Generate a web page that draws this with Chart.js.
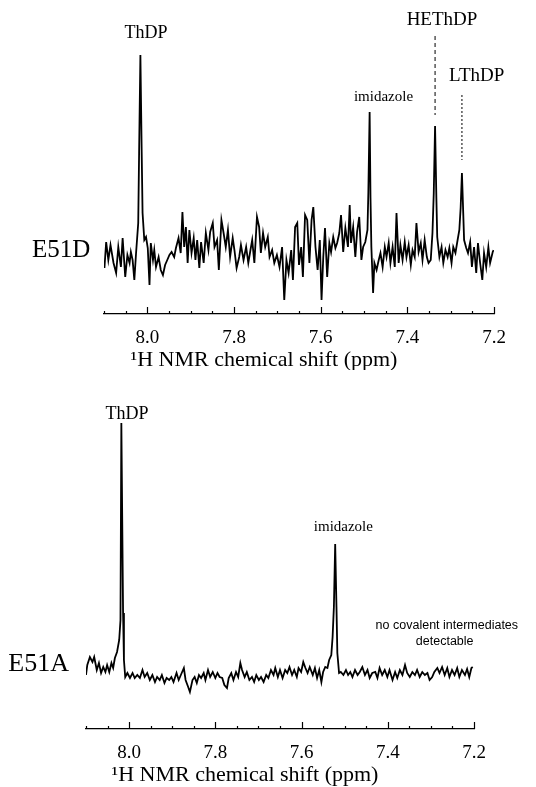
<!DOCTYPE html>
<html>
<head>
<meta charset="utf-8">
<script src="https://cdn.jsdelivr.net/npm/chart.js@4.4.1/dist/chart.umd.min.js"></script>
<style>
html, body { margin: 0; padding: 0; background: #fff; }
body { width: 536px; height: 787px; position: relative; overflow: hidden; }
.panel { position: absolute; left: 0; width: 536px; }
#topPanel { top: 0; height: 370px; }
#bottomPanel { top: 380px; height: 407px; }
</style>
</head>
<body>
<div class="panel" id="topPanel"><canvas id="e51dChart"></canvas></div>
<div class="panel" id="bottomPanel"><canvas id="e51aChart"></canvas></div>
<script>
// chemical shift axis
const shiftMin = 7.2
const shiftMax = 8.1
const axisTitle = "¹H NMR chemical shift (ppm)"

// E51D spectrum (ppm / intensity, arbitrary units)
const e51dShift = [
8.099, 8.095, 8.090, 8.085, 8.078, 8.072, 8.067, 8.061, 8.057, 8.051,
8.046, 8.041, 8.038, 8.034, 8.030, 8.026, 8.021, 8.019, 8.016, 8.013,
8.011, 8.007, 8.003, 7.999, 7.995, 7.992, 7.987, 7.984, 7.980, 7.974,
7.969, 7.964, 7.959, 7.954, 7.949, 7.944, 7.938, 7.934, 7.928, 7.923,
7.919, 7.915, 7.911, 7.907, 7.903, 7.898, 7.893, 7.889, 7.885, 7.880,
7.876, 7.870, 7.865, 7.859, 7.855, 7.849, 7.845, 7.839, 7.835, 7.829,
7.824, 7.819, 7.814, 7.809, 7.803, 7.799, 7.794, 7.788, 7.784, 7.778,
7.772, 7.767, 7.762, 7.758, 7.753, 7.747, 7.742, 7.738, 7.733, 7.728,
7.722, 7.718, 7.712, 7.707, 7.701, 7.695, 7.689, 7.684, 7.679, 7.674,
7.668, 7.664, 7.659, 7.654, 7.650, 7.645, 7.641, 7.636, 7.631, 7.626,
7.621, 7.617, 7.612, 7.607, 7.602, 7.598, 7.594, 7.590, 7.585, 7.580,
7.576, 7.571, 7.566, 7.562, 7.557, 7.553, 7.548, 7.543, 7.537, 7.533,
7.530, 7.525, 7.520, 7.516, 7.511, 7.506, 7.502, 7.497, 7.492, 7.490,
7.487, 7.485, 7.483, 7.479, 7.476, 7.471, 7.466, 7.462, 7.457, 7.452,
7.448, 7.443, 7.439, 7.434, 7.429, 7.425, 7.420, 7.416, 7.411, 7.406,
7.402, 7.397, 7.392, 7.388, 7.383, 7.379, 7.374, 7.369, 7.365, 7.360,
7.355, 7.351, 7.346, 7.342, 7.339, 7.336, 7.333, 7.331, 7.326, 7.321,
7.317, 7.312, 7.307, 7.303, 7.298, 7.294, 7.289, 7.284, 7.280, 7.277,
7.274, 7.271, 7.269, 7.264, 7.260, 7.255, 7.251, 7.246, 7.241, 7.237,
7.232, 7.227, 7.223, 7.218, 7.213, 7.209, 7.203, 7.201
]
const e51dIntensity = [
-15, 11, -7, 8, -10, -20, 6, -14, 15, -24,
-2, -10, 1, -7, -27, 0, 30, 100, 198, 100,
40, 13, 16, 5, -32, 10, -7, 3, -14, -4,
-17, -22, -12, -7, -2, 1, -4, 5, 15, 0,
41, 6, 26, -10, 23, 0, 15, -7, 13, -15,
11, -10, 20, 3, 21, 30, 6, 13, -17, 33,
20, 6, 23, -4, 15, 3, -15, -4, 8, -7,
6, -10, 3, 13, -10, 36, 26, 0, 20, 6,
16, -4, 3, -10, -2, -14, 6, -47, -7, -20,
3, -27, 26, 30, -12, 6, -24, 38, 33, -10,
33, 46, 6, -17, 13, -47, -4, 25, -24, 10,
1, 16, 5, 10, 20, 38, 1, 25, 6, 48,
10, 26, -4, 21, 36, -7, 6, 11, 23, 60,
141, 55, 6, -40, -10, -17, -7, 0, -14, 6,
-4, 10, -10, 6, -14, 40, -10, 8, -7, 11,
-4, 8, -12, 3, -4, 30, 1, 10, -7, 13,
-4, -10, -7, 20, 60, 127, 55, 16, -4, 6,
-10, 3, -4, 5, -10, 6, 0, 13, 23, 45,
80, 40, 13, 5, 0, 11, -14, 6, -20, 10,
-10, -27, 0, -14, 6, -10, 1, 3
]

// E51A spectrum
const e51aShift = [
8.100, 8.097, 8.091, 8.085, 8.081, 8.075, 8.070, 8.065, 8.060, 8.055,
8.051, 8.046, 8.041, 8.037, 8.033, 8.028, 8.023, 8.020, 8.018, 8.014,
8.012, 8.009, 8.004, 7.998, 7.992, 7.987, 7.981, 7.975, 7.969, 7.964,
7.958, 7.952, 7.946, 7.940, 7.935, 7.929, 7.924, 7.918, 7.913, 7.907,
7.902, 7.897, 7.890, 7.885, 7.880, 7.873, 7.869, 7.863, 7.859, 7.853,
7.848, 7.843, 7.838, 7.833, 7.827, 7.823, 7.817, 7.812, 7.806, 7.800,
7.795, 7.790, 7.784, 7.779, 7.773, 7.769, 7.763, 7.758, 7.752, 7.747,
7.742, 7.738, 7.732, 7.727, 7.721, 7.715, 7.710, 7.705, 7.699, 7.694,
7.688, 7.682, 7.677, 7.671, 7.665, 7.661, 7.655, 7.650, 7.644, 7.638,
7.633, 7.628, 7.622, 7.617, 7.611, 7.607, 7.601, 7.596, 7.591, 7.586,
7.581, 7.574, 7.569, 7.564, 7.559, 7.554, 7.550, 7.545, 7.540, 7.536,
7.531, 7.528, 7.525, 7.522, 7.519, 7.517, 7.513, 7.509, 7.503, 7.497,
7.492, 7.487, 7.482, 7.476, 7.470, 7.465, 7.459, 7.453, 7.447, 7.442,
7.436, 7.429, 7.424, 7.419, 7.413, 7.407, 7.401, 7.396, 7.389, 7.383,
7.378, 7.372, 7.366, 7.360, 7.355, 7.349, 7.343, 7.337, 7.332, 7.326,
7.320, 7.314, 7.308, 7.303, 7.297, 7.292, 7.285, 7.280, 7.274, 7.268,
7.262, 7.257, 7.251, 7.245, 7.239, 7.234, 7.228, 7.221, 7.216, 7.211,
7.206, 7.203
]
const e51aIntensity = [
2, 12, 20, 15, 20, 7, 14, 4, 10, 5,
12, 5, 14, 9, 19, 25, 37, 57, 254, 64,
17, 0, 4, -1, 4, -1, 2, -1, 7, 0,
4, -3, 2, -5, 0, -3, 2, -6, -1, -3,
0, -5, 4, -3, 2, 9, -3, -10, -15, -3,
0, -6, 2, -1, 4, -3, 7, 0, 5, -1,
4, 0, -1, -8, -11, -1, 4, -3, 5, 0,
14, 7, 0, 5, -3, 0, -5, 2, -3, 0,
-5, 2, -1, 7, 2, 9, 0, 7, -1, 7,
4, 10, 2, 7, 0, 9, 5, 15, 9, 4,
10, 2, 9, -1, 7, -5, 5, 10, 9, 17,
22, 40, 70, 133, 70, 24, 4, 5, 2, 7,
2, 5, 0, 7, 2, 5, 10, 2, 7, -1,
4, 5, -1, 9, 2, 7, 0, 7, -3, 5,
-1, 7, 2, 12, 4, 0, 5, 2, 7, 0,
5, 2, 4, -3, 0, 5, 9, 4, 10, 2,
9, 0, 7, 2, 9, 0, 7, 2, 8, 0,
9, 10
]

// dashed leaders above HEThDP and LThDP
const leaderShift = [7.336, 7.274]
const leaderUpper = [217, 158]
const leaderLower = [138, 93]

const e51dLabels = ["ThDP", "imidazole", "HEThDP", "LThDP", "E51D"]
const e51aLabels = ["ThDP", "imidazole", "E51A", "no covalent intermediates", "detectable"]

const serif = '"Liberation Serif", "Times New Roman", serif'
const sans = '"Liberation Sans", Arial, sans-serif'

function isMajor(v) {
    return Math.abs(v / 0.2 - Math.round(v / 0.2)) < 1e-6
}

const figureText = {
    id: "figureText",
    afterDraw(chart, args, opts) {
        const { ctx, chartArea, scales } = chart
        const x = scales.x, y = scales.y
        ctx.save()
        ctx.strokeStyle = "#000"
        ctx.lineWidth = 1.2
        x.ticks.forEach(t => {
            const px = Math.round(x.getPixelForValue(t.value)) + 0.5
            const len = isMajor(t.value) ? 7 : 3
            ctx.beginPath()
            ctx.moveTo(px, chartArea.bottom)
            ctx.lineTo(px, chartArea.bottom - len)
            ctx.stroke()
        })
        ctx.fillStyle = "#000"
        ctx.textAlign = "center"
        ctx.textBaseline = "middle"
        opts.notes.forEach(n => {
            ctx.font = n.font
            ctx.fillText(n.text, x.getPixelForValue(n.shift), y.getPixelForValue(n.level))
        })
        ctx.font = "22px " + serif
        ctx.fillText(axisTitle, (chartArea.left + chartArea.right) / 2 - 35, chartArea.bottom + 46)
        ctx.restore()
    }
}

function makeSpectrum(canvasId, shifts, values, opts) {
    const datasets = [{
        data: shifts.map((s, i) => ({ x: s, y: values[i] })),
        borderColor: "#000",
        borderWidth: 1.8,
        pointRadius: 0,
        tension: 0,
        fill: false
    }]
    opts.leaders.forEach(l => {
        datasets.push({
            data: [{ x: l.shift, y: l.upper }, { x: l.shift, y: l.lower }],
            borderColor: "#000",
            borderWidth: 1,
            borderDash: l.dash,
            pointRadius: 0,
            fill: false
        })
    })

    new Chart(document.getElementById(canvasId), {
        type: "line",
        data: { datasets: datasets },
        options: {
            responsive: true,
            maintainAspectRatio: false,
            animation: false,
            layout: { padding: opts.padding },
            plugins: {
                legend: { display: false },
                tooltip: { enabled: false },
                figureText: { notes: opts.notes }
            },
            scales: {
                x: {
                    type: "linear",
                    reverse: true,
                    min: shiftMin,
                    max: shiftMax,
                    afterFit: s => { s.height = opts.axisHeight },
                    grid: { display: false },
                    border: { display: true, color: "#000", width: 1.3 },
                    ticks: {
                        stepSize: 0.05,
                        maxTicksLimit: 100,
                        autoSkip: false,
                        maxRotation: 0,
                        padding: 5,
                        color: "#000",
                        font: { family: serif, size: 19 },
                        callback: v => isMajor(v) ? v.toFixed(1) : ""
                    }
                },
                y: {
                    display: false,
                    min: opts.yMin,
                    max: opts.yMax
                }
            }
        },
        plugins: [figureText]
    })
}

makeSpectrum("e51dChart", e51dShift, e51dIntensity, {
    padding: { left: 104, right: 42, top: 10, bottom: 0 },
    axisHeight: 56,
    yMin: -61,
    yMax: 243,
    leaders: [
        { shift: leaderShift[0], upper: leaderUpper[0], lower: leaderLower[0], dash: [4, 3] },
        { shift: leaderShift[1], upper: leaderUpper[1], lower: leaderLower[1], dash: [2, 2] }
    ],
    notes: [
        { text: e51dLabels[0], shift: 8.003, level: 220, font: "18px " + serif },
        { text: e51dLabels[1], shift: 7.455, level: 156, font: "15px " + serif },
        { text: e51dLabels[2], shift: 7.320, level: 233, font: "19px " + serif },
        { text: e51dLabels[3], shift: 7.240, level: 177, font: "19px " + serif },
        { text: e51dLabels[4], shift: 8.199, level: 3, font: "25px " + serif }
    ]
})

makeSpectrum("e51aChart", e51aShift, e51aIntensity, {
    padding: { left: 86, right: 62, top: 10, bottom: 0 },
    axisHeight: 58,
    yMin: -52,
    yMax: 287,
    leaders: [],
    notes: [
        { text: e51aLabels[0], shift: 8.005, level: 263, font: "18px " + serif },
        { text: e51aLabels[1], shift: 7.503, level: 150, font: "15px " + serif },
        { text: e51aLabels[2], shift: 8.210, level: 13, font: "26px " + serif },
        { text: e51aLabels[3], shift: 7.263, level: 51, font: "12.5px " + sans },
        { text: e51aLabels[4], shift: 7.268, level: 35, font: "12.5px " + sans }
    ]
})
</script>
</body>
</html>
